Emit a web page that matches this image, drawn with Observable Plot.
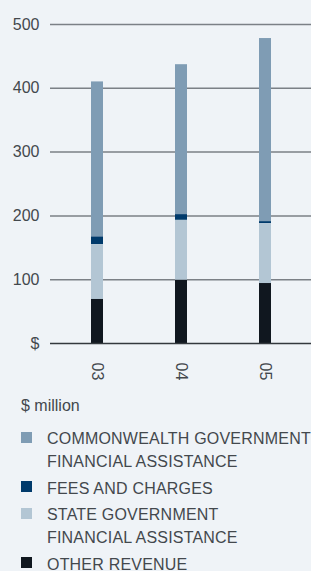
<!DOCTYPE html>
<html><head><meta charset="utf-8">
<script src="https://cdn.jsdelivr.net/npm/d3@7"></script>
<script src="https://cdn.jsdelivr.net/npm/@observablehq/plot@0.6"></script>
<style>
html,body{margin:0;padding:0;background:#eff3f7;}
body{width:311px;height:571px;overflow:hidden;font-family:"Liberation Sans",Arial,sans-serif;color:#43484d;}
#legend{padding-left:21px;font-size:16px;line-height:23px;}
#legend .unit{margin-bottom:10px;}
#legend .row{display:flex;align-items:flex-start;margin-bottom:3.5px;}
#legend .sw{width:11px;height:11px;margin-top:4.5px;margin-right:15px;flex:none;}
#legend .lab{white-space:pre-line;letter-spacing:0.2px;}
</style></head>
<body>
<div id="chart"></div>
<div id="legend"></div>
<script>
const years = ["03", "04", "05"];
const seriesNames = ["COMMONWEALTH GOVERNMENT\nFINANCIAL ASSISTANCE", "FEES AND CHARGES", "STATE GOVERNMENT\nFINANCIAL ASSISTANCE", "OTHER REVENUE"];
const seriesColors = ["#7f9cb4", "#003a6b", "#b3c6d4", "#10171f"];
const commonwealth = [243, 235, 287];
const feesCharges = [12, 9, 3];
const stateGov = [86, 94, 94];
const otherRevenue = [69, 99, 94];
const yTicks = [0, 100, 200, 300, 400, 500];
const unitLabel = "$ million";

const valuesBySeries = [commonwealth, feesCharges, stateGov, otherRevenue];
const data = [];
seriesNames.forEach((s, i) => years.forEach((y, j) => data.push({year: y, series: s, value: valuesBySeries[i][j]})));
const stackOrder = [seriesNames[3], seriesNames[2], seriesNames[1], seriesNames[0]];

const chart = Plot.plot({
  width: 311,
  height: 394,
  marginLeft: 50,
  marginRight: 0,
  marginTop: 24,
  marginBottom: 51,
  style: {background: "transparent", fontFamily: "'Liberation Sans', Arial, sans-serif", fontSize: "16px", color: "#43484d"},
  x: {domain: years, range: [55, 307], paddingInner: 0.857, paddingOuter: 0.4285, label: null},
  y: {domain: [0, 500], label: null},
  color: {domain: seriesNames, range: seriesColors},
  marks: [
    Plot.ruleY(yTicks.filter(d => d > 0), {stroke: "#7b8086", strokeWidth: 1.5}),
    Plot.barY(data, {x: "year", y: "value", fill: "series", order: stackOrder}),
    Plot.ruleY([0], {stroke: "#33383d", strokeWidth: 1.5}),
    Plot.axisY({ticks: yTicks, tickSize: 0, tickPadding: 11, tickFormat: d => d === 0 ? "$" : String(d), label: null, fontSize: 16}),
    Plot.axisX({tickSize: 0, tickPadding: 19, tickRotate: 90, label: null, fontSize: 16})
  ]
});
document.getElementById("chart").appendChild(chart);

const legend = document.getElementById("legend");
const u = document.createElement("div");
u.className = "unit";
u.textContent = unitLabel;
legend.appendChild(u);
seriesNames.forEach((s, i) => {
  const row = document.createElement("div");
  row.className = "row";
  const sw = document.createElement("span");
  sw.className = "sw";
  sw.style.background = seriesColors[i];
  const lab = document.createElement("span");
  lab.className = "lab";
  lab.textContent = s;
  row.appendChild(sw);
  row.appendChild(lab);
  legend.appendChild(row);
});
</script>
</body></html>
